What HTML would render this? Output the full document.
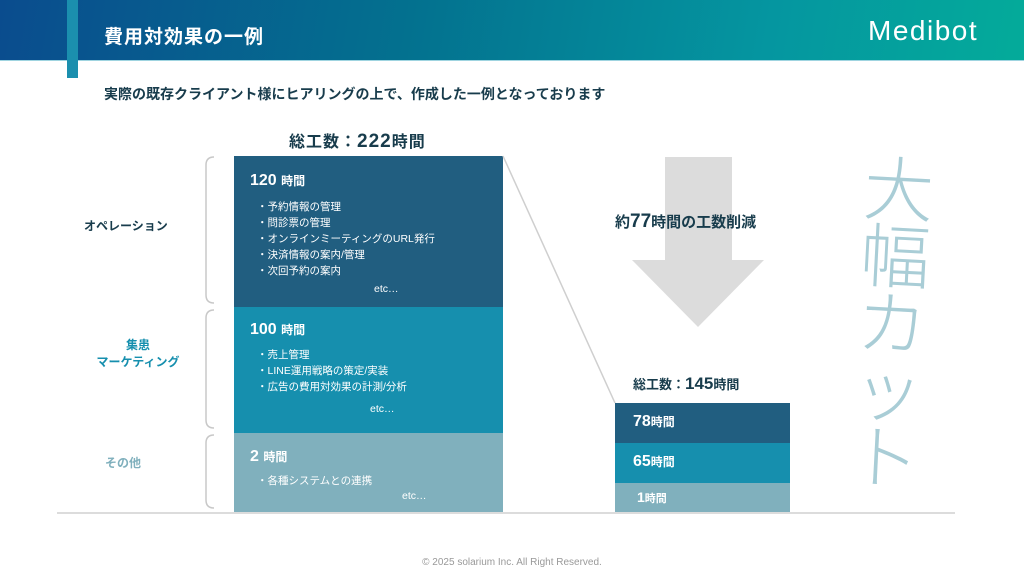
<!DOCTYPE html>
<html><head><meta charset="utf-8"><style>
*{margin:0;padding:0;box-sizing:border-box}
body{width:1024px;height:576px;position:relative;overflow:hidden;background:#fff;font-family:"Liberation Sans","Noto Sans CJK JP",sans-serif}
.a{position:absolute;white-space:nowrap}
.hdr{left:0;top:0;width:1024px;height:60px;background:linear-gradient(100deg,#0a4c8e 0%,#03718f 40%,#0596a0 75%,#04ab9a 100%)}
.b{font-weight:bold}
.li{font-size:10.5px;color:#fff;line-height:16px}
</style></head><body>
<div class="a hdr"></div>
<div class="a" style="left:0;top:60px;width:1024px;height:1px;background:#9fd4e0"></div>
<div class="a" style="left:67px;top:0;width:11px;height:78px;background:#1b8fae"></div>
<div class="a b" style="left:104px;top:22px;font-size:19px;color:#fff;letter-spacing:1px">費用対効果の一例</div>
<div class="a" style="left:868px;top:15px;font-size:28px;color:#fff;letter-spacing:1.5px">Medibot</div>
<div class="a b" style="left:104px;top:84px;font-size:14px;color:#183c4c">実際の既存クライアント様にヒアリングの上で、作成した一例となっております</div>

<div class="a b" style="left:289px;top:128px;font-size:16px;color:#183c4c;letter-spacing:1px">総工数：<span style="font-size:19px">222</span>時間</div>

<div class="a" style="left:234px;top:156px;width:269px;height:151px;background:#215e80"></div>
<div class="a" style="left:234px;top:307px;width:269px;height:126px;background:#168fae"></div>
<div class="a" style="left:234px;top:433px;width:269px;height:79px;background:#80b0bd"></div>

<div class="a b" style="left:250px;top:172px;font-size:16px;color:#fff">120 <span style="font-size:12px">時間</span></div>
<div class="a li" style="left:257px;top:199px">・予約情報の管理<br>・問診票の管理<br>・オンラインミーティングのURL発行<br>・決済情報の案内/管理<br>・次回予約の案内</div>
<div class="a li" style="left:374px;top:281px">etc…</div>

<div class="a b" style="left:250px;top:321px;font-size:16px;color:#fff">100 <span style="font-size:12px">時間</span></div>
<div class="a li" style="left:257px;top:347px">・売上管理<br>・LINE運用戦略の策定/実装<br>・広告の費用対効果の計測/分析</div>
<div class="a li" style="left:370px;top:401px">etc…</div>

<div class="a b" style="left:250px;top:448px;font-size:16px;color:#fff">2 <span style="font-size:12px">時間</span></div>
<div class="a li" style="left:257px;top:473px">・各種システムとの連携</div>
<div class="a li" style="left:402px;top:488px">etc…</div>

<div class="a b" style="left:84px;top:217px;font-size:12px;color:#183c4c">オペレーション</div>
<div class="a b" style="left:84px;top:337px;width:108px;text-align:center;font-size:12px;line-height:17px;color:#168fae">集患<br>マーケティング</div>
<div class="a b" style="left:105px;top:454px;font-size:12px;color:#80b0bd">その他</div>

<svg class="a" style="left:0;top:0" width="1024" height="576">
<g fill="none" stroke="#c8c8c8" stroke-width="1.5">
<path d="M214,157 Q206,157 206,165 V295 Q206,303 214,303"/>
<path d="M214,310 Q206,310 206,318 V420 Q206,428 214,428"/>
<path d="M214,435 Q206,435 206,443 V500 Q206,508 214,508"/>
<line x1="503" y1="156" x2="615" y2="403" stroke="#cfcfcf"/>
</g>
<polygon points="665,157 732,157 732,260 764,260 698,327 632,260 665,260" fill="#dcdcdc"/>
<line x1="57" y1="513" x2="955" y2="513" stroke="#d0d0d0" stroke-width="1.5"/>
</svg>

<div class="a b" style="left:615px;top:211px;font-size:15px;color:#183c4c">約<span style="font-size:19px">77</span>時間の工数削減</div>

<div class="a b" style="left:633px;top:374px;font-size:13px;color:#183c4c">総工数：<span style="font-size:17px">145</span>時間</div>
<div class="a" style="left:615px;top:403px;width:175px;height:40px;background:#215e80"></div>
<div class="a" style="left:615px;top:443px;width:175px;height:40px;background:#168fae"></div>
<div class="a" style="left:615px;top:483px;width:175px;height:29px;background:#80b0bd"></div>
<div class="a b" style="left:633px;top:413px;font-size:16px;color:#fff">78<span style="font-size:12px">時間</span></div>
<div class="a b" style="left:633px;top:453px;font-size:16px;color:#fff">65<span style="font-size:12px">時間</span></div>
<div class="a b" style="left:637px;top:489px;font-size:14px;color:#fff">1<span style="font-size:11px">時間</span></div>

<div class="a" style="left:850px;top:152px;width:84px;font-family:'Noto Sans CJK JP',sans-serif;font-weight:300;font-size:70px;line-height:67px;color:#a9cdd6;white-space:normal;text-align:center;transform:rotate(3deg)">大<br>幅<br>カ<br>ッ<br>ト</div>

<div class="a" style="left:0;top:557px;width:1024px;text-align:center;font-size:10px;color:#999">© 2025 solarium Inc. All Right Reserved.</div>
</body></html>
